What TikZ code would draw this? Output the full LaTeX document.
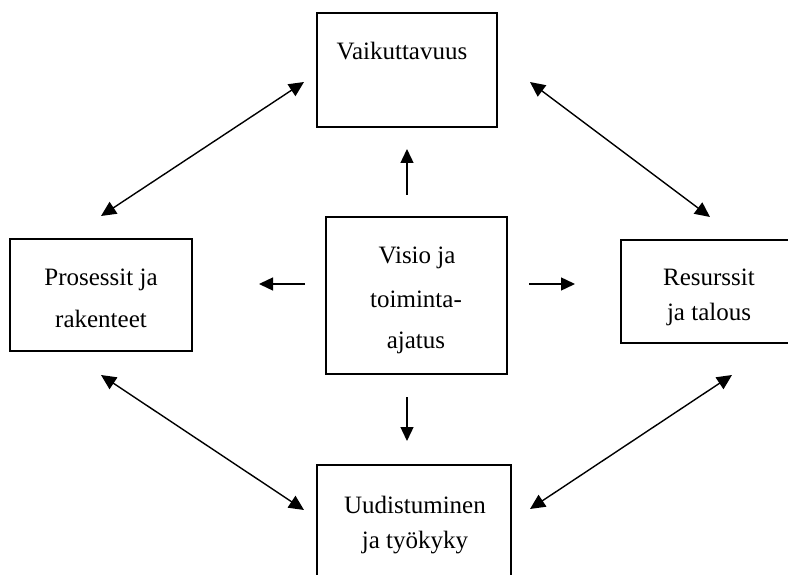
\documentclass[tikz,border=0pt]{standalone}
\usepackage{fontspec}
\setmainfont{Liberation Serif}
\usetikzlibrary{arrows.meta}
\begin{document}
\begin{tikzpicture}[x=1pt,y=-1pt,
  frame/.style={draw,line width=1.4pt,rectangle,inner sep=0pt},
  lbl/.style={font=\fontsize{25pt}{30pt}\selectfont,inner sep=0pt,anchor=base},
  link/.style={line width=1.4pt,-{Triangle[length=14pt,width=13pt]}},
  biglink/.style={line width=1.4pt,{Triangle[length=15pt,width=14pt]}-{Triangle[length=15pt,width=14pt]}}]
\useasboundingbox (0,0) rectangle (788,575);
\clip (0,0) rectangle (788,575);

% boxes
\node[frame,minimum width=180pt,minimum height=114pt] (top) at (407,70) {};
\node[frame,minimum width=182pt,minimum height=112pt] (left) at (101,295) {};
\node[frame,minimum width=180pt,minimum height=103pt] (right) at (711,291.5) {};
\node[frame,minimum width=181pt,minimum height=157pt] (mid) at (416.5,295.5) {};
\node[frame,minimum width=194pt,minimum height=136pt] (bot) at (414,533) {};

% labels
\node[lbl] (t1) at (402,60) {Vaikuttavuus};
\node[lbl] (l1) at (101,285) {Prosessit ja};
\node[lbl] (l2) at (101,327) {rakenteet};
\node[lbl] (r1) at (709,285) {Resurssit};
\node[lbl] (r2) at (709,320) {ja talous};
\node[lbl] (m1) at (417,263) {Visio ja};
\node[lbl] (m2) at (416,307) {toiminta-};
\node[lbl] (m3) at (416,348) {ajatus};
\node[lbl] (b1) at (415,513) {Uudistuminen};
\node[lbl] (b2) at (415,548) {ja työkyky};

% free ends of the arrows
\coordinate (upS) at (407,195);   \coordinate (upE) at (407,149);
\coordinate (lfS) at (305,284);   \coordinate (lfE) at (259,284);
\coordinate (rtS) at (529,284);   \coordinate (rtE) at (575,284);
\coordinate (dnS) at (407,397);   \coordinate (dnE) at (407,441);
\coordinate (tlA) at (101,216);   \coordinate (tlB) at (304,82);
\coordinate (trA) at (530,82);    \coordinate (trB) at (710,217);
\coordinate (blA) at (101,375);   \coordinate (blB) at (304,510);
\coordinate (brA) at (732,375);   \coordinate (brB) at (530,509);

% from the centre outwards
\draw[link] (upS) -- (upE);
\draw[link] (lfS) -- (lfE);
\draw[link] (rtS) -- (rtE);
\draw[link] (dnS) -- (dnE);

% around the ring
\draw[biglink] (tlA) -- (tlB);
\draw[biglink] (trA) -- (trB);
\draw[biglink] (blA) -- (blB);
\draw[biglink] (brA) -- (brB);
\end{tikzpicture}
\end{document}
